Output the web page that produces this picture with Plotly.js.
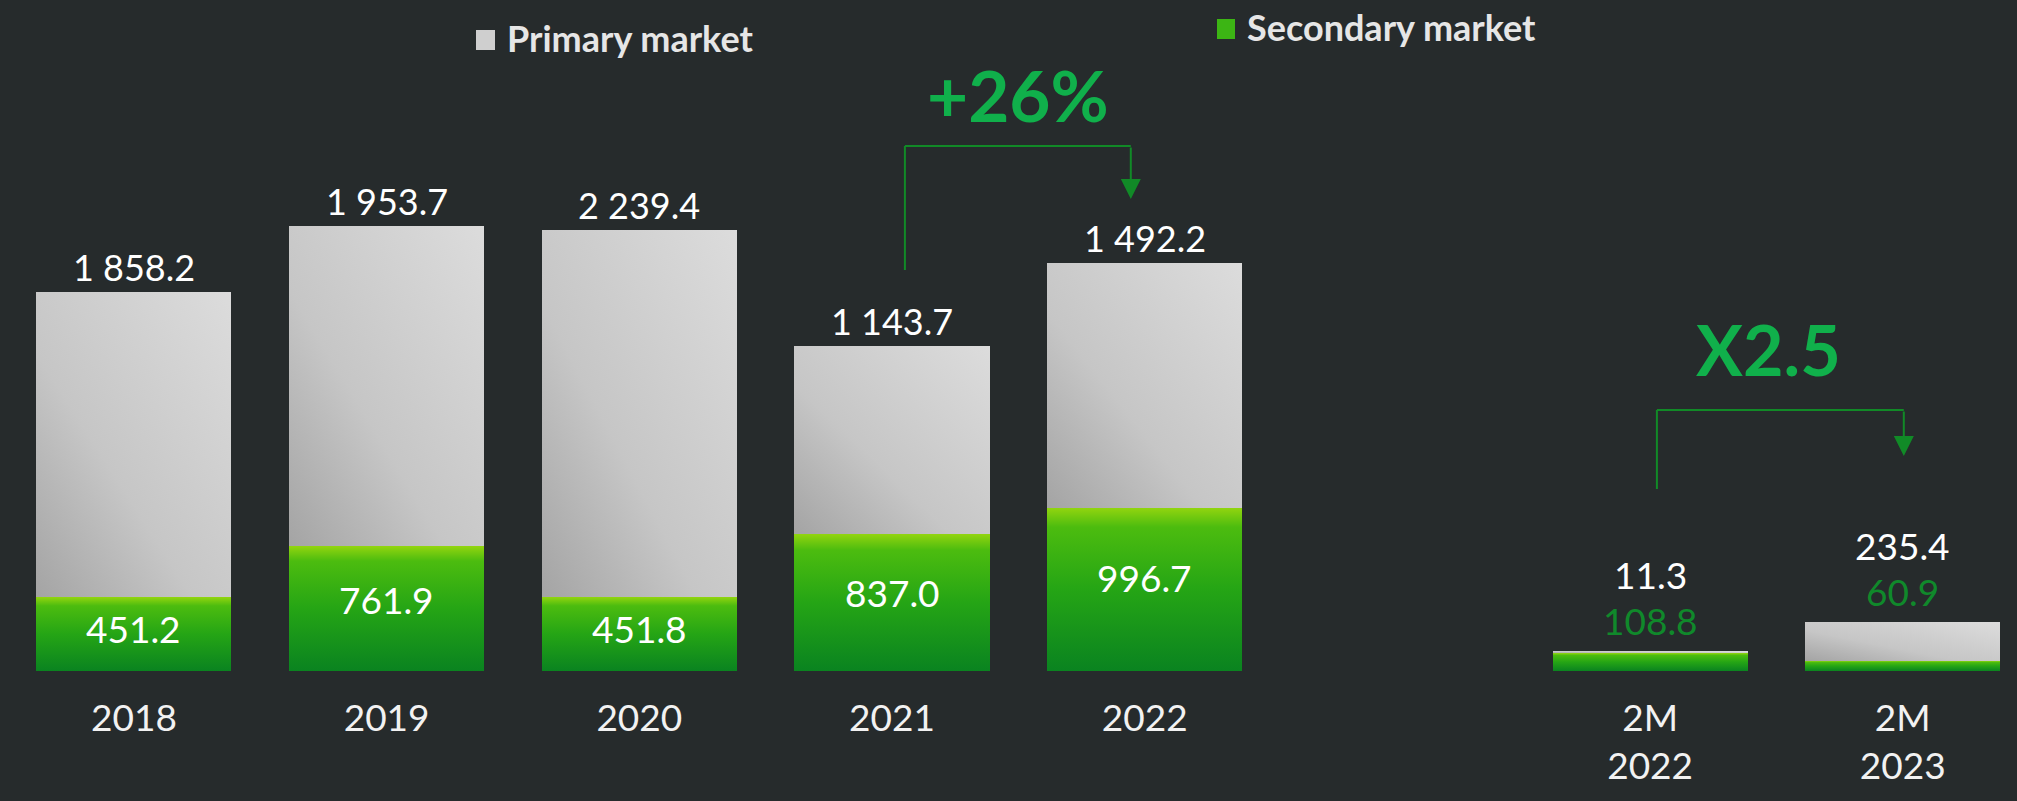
<!DOCTYPE html>
<html>
<head>
<meta charset="utf-8">
<script src="https://cdn.plot.ly/plotly-3.0.1.min.js"></script>
<style>
  html, body { margin: 0; padding: 0; background: #262b2c; }
  #chart { width: 2017px; height: 801px; }
</style>
</head>
<body>
<div id="chart"></div>
<script>
// ---- data ----
const categories = ['2018', '2019', '2020', '2021', '2022', ' ', '2M<br>2022', '2M<br>2023'];
const primaryValues = [1858.2, 1953.7, 2239.4, 1143.7, 1492.2, null, 11.3, 235.4];
const secondaryValues = [451.2, 761.9, 451.8, 837.0, 996.7, null, 108.8, 60.9];
const growthLabels = ['+26%', 'X2.5'];
const legendLabels = ['Primary market', 'Secondary market'];

// ---- helpers ----
function fmt(v) {
  const parts = v.toFixed(1).split('.');
  return parts[0].replace(/\B(?=(\d{3})+(?!\d))/g, ' ') + '.' + parts[1];
}
const PLOT_H = 671;            // plot area height in px (top margin 0)
const W = 2017;
function py(p) { return (PLOT_H - p) / PLOT_H; }   // pixel row -> paper y
function px(p) { return p / W; }                   // pixel col -> paper x

const BG = '#262b2c';
const LINE_GREEN = '#118a27';
const BRIGHT_GREEN = '#10b04b';
const LABEL_GREEN = '#10892b';
const NUM_FONT = 'Lato, "Open Sans", sans-serif';

const traces = [
  {
    type: 'bar', name: legendLabels[1], x: categories, y: secondaryValues,
    marker: { color: '#2aa814', line: { width: 0 } }, hoverinfo: 'skip', showlegend: false
  },
  {
    type: 'bar', name: legendLabels[0], x: categories, y: primaryValues,
    marker: { color: '#c9c9c9', line: { width: 0 } }, hoverinfo: 'skip', showlegend: false
  }
];

const annotations = [];
categories.forEach((c, i) => {
  const p = primaryValues[i], s = secondaryValues[i];
  if (p == null || s == null) return;
  const total = p + s;
  // x given as the category's serial number (numeric-looking names would be read as numbers)
  if (c.startsWith('2M')) {
    annotations.push({ x: i, y: total, xref: 'x', yref: 'y', text: fmt(s), showarrow: false,
      yanchor: 'middle', yshift: 31, font: { family: NUM_FONT, size: 37, color: LABEL_GREEN } });
    annotations.push({ x: i, y: total, xref: 'x', yref: 'y', text: fmt(p), showarrow: false,
      yanchor: 'middle', yshift: 77, font: { family: NUM_FONT, size: 37, color: '#ffffff' } });
  } else {
    annotations.push({ x: i, y: total, xref: 'x', yref: 'y', text: fmt(p), showarrow: false,
      yanchor: 'middle', yshift: 25, font: { family: NUM_FONT, size: 36, color: '#ffffff' } });
    annotations.push({ x: i, y: s * 0.57, xref: 'x', yref: 'y', text: fmt(s), showarrow: false,
      yanchor: 'middle', font: { family: NUM_FONT, size: 37, color: '#ffffff' } });
  }
});

// growth call-outs
annotations.push({ x: 3.5, y: py(95), xref: 'x', yref: 'paper', text: '<b>' + growthLabels[0] + '</b>',
  showarrow: false, yanchor: 'middle', font: { family: NUM_FONT, size: 71, color: BRIGHT_GREEN } });
annotations.push({ x: 6.47, y: py(349), xref: 'x', yref: 'paper', text: '<b>' + growthLabels[1] + '</b>',
  showarrow: false, yanchor: 'middle', font: { family: NUM_FONT, size: 70, color: BRIGHT_GREEN } });

// arrow heads of the brackets
annotations.push({ x: 3.945, y: py(199), xref: 'x', yref: 'paper', text: '', showarrow: true,
  ax: 0, ay: -53, arrowhead: 2, arrowsize: 2, arrowwidth: 2, arrowcolor: LINE_GREEN });
annotations.push({ x: 7.004, y: py(456), xref: 'x', yref: 'paper', text: '', showarrow: true,
  ax: 0, ay: -46, arrowhead: 2, arrowsize: 2, arrowwidth: 2, arrowcolor: LINE_GREEN });

// custom legend text
annotations.push({ x: px(505), y: py(38), xref: 'paper', yref: 'paper', xanchor: 'left', yanchor: 'middle',
  text: '<b>' + legendLabels[0] + '</b>', showarrow: false, font: { family: 'Lato, sans-serif', size: 36, color: '#e6e6e6' } });
annotations.push({ x: px(1245), y: py(27), xref: 'paper', yref: 'paper', xanchor: 'left', yanchor: 'middle',
  text: '<b>' + legendLabels[1] + '</b>', showarrow: false, font: { family: 'Lato, sans-serif', size: 36, color: '#e6e6e6' } });

const shapes = [
  // +26% bracket
  { type: 'line', xref: 'x', yref: 'paper', x0: 3.051, x1: 3.051, y0: py(270), y1: py(146), line: { color: LINE_GREEN, width: 2 } },
  { type: 'line', xref: 'x', yref: 'paper', x0: 3.051, x1: 3.945, y0: py(146), y1: py(146), line: { color: LINE_GREEN, width: 2 } },
  // X2.5 bracket
  { type: 'line', xref: 'x', yref: 'paper', x0: 6.027, x1: 6.027, y0: py(489), y1: py(410), line: { color: LINE_GREEN, width: 2 } },
  { type: 'line', xref: 'x', yref: 'paper', x0: 6.027, x1: 7.004, y0: py(410), y1: py(410), line: { color: LINE_GREEN, width: 2 } },
  // legend swatches
  { type: 'rect', xref: 'paper', yref: 'paper', x0: px(476), x1: px(495), y0: py(50), y1: py(30), fillcolor: '#cfcfcf', line: { width: 0 } },
  { type: 'rect', xref: 'paper', yref: 'paper', x0: px(1217), x1: px(1235), y0: py(39), y1: py(19), fillcolor: '#3cb514', line: { width: 0 } }
];

const layout = {
  width: 2017, height: 801,
  margin: { l: 0, r: 0, t: 0, b: 130, pad: 0 },
  paper_bgcolor: BG, plot_bgcolor: BG,
  barmode: 'stack', bargap: 0.228,
  showlegend: false,
  font: { family: NUM_FONT, color: '#f2f2f2' },
  xaxis: {
    type: 'category', categoryorder: 'array', categoryarray: categories,
    range: [-0.530, 7.452], showgrid: false, zeroline: false, showline: false,
    ticks: '', ticklabelstandoff: 22,
    tickfont: { family: NUM_FONT, size: 37, color: '#f2f2f2' }
  },
  yaxis: { range: [0, 4093], visible: false, showgrid: false, zeroline: false },
  annotations: annotations,
  shapes: shapes
};

Plotly.newPlot('chart', traces, layout, { staticPlot: true, displayModeBar: false }).then(gd => {
  const NS = 'http://www.w3.org/2000/svg';
  const svg = gd.querySelector('svg.main-svg');
  let defs = svg.querySelector('defs');
  if (!defs) { defs = document.createElementNS(NS, 'defs'); svg.insertBefore(defs, svg.firstChild); }
  function grad(id, x1, y1, x2, y2, stops) {
    const g = document.createElementNS(NS, 'linearGradient');
    g.setAttribute('id', id);
    g.setAttribute('x1', x1); g.setAttribute('y1', y1); g.setAttribute('x2', x2); g.setAttribute('y2', y2);
    stops.forEach(st => {
      const s = document.createElementNS(NS, 'stop');
      s.setAttribute('offset', st[0]); s.setAttribute('stop-color', st[1]);
      g.appendChild(s);
    });
    defs.appendChild(g);
  }
  grad('gSec', 0, 0, 0, 1, [[0, '#93d50f'], [0.12, '#4cbc0f'], [0.5, '#25a515'], [1, '#0a8320']]);
  grad('gPri', 0, 1, 1, 0, [[0, '#a4a4a4'], [0.4, '#c6c6c6'], [1, '#dcdcdc']]);
  const layers = gd.querySelectorAll('.barlayer .trace');
  if (layers[0]) layers[0].querySelectorAll('path').forEach(p => { p.style.fill = 'url(#gSec)'; });
  if (layers[1]) layers[1].querySelectorAll('path').forEach(p => { p.style.fill = 'url(#gPri)'; });
});
</script>
</body>
</html>
